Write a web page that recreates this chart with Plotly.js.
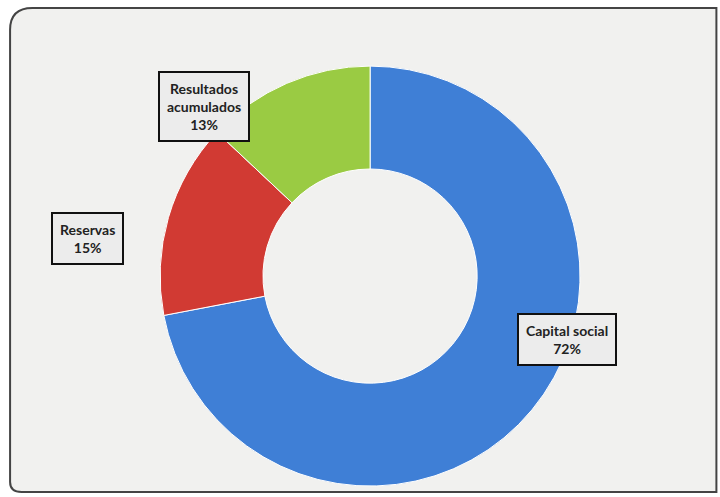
<!DOCTYPE html>
<html>
<head>
<meta charset="utf-8">
<script src="https://cdn.plot.ly/plotly-3.0.1.min.js"></script>
<style>html,body{margin:0;padding:0;background:#fff;}#chart{width:720px;height:497px;}</style>
</head>
<body>
<div id="chart"></div>
<script>
const categories = ["Capital social", "Reservas", "Resultados acumulados"];
const values = [72, 15, 13];
const labelTexts = ["Capital social<br>72%", "Reservas<br>15%", "Resultados<br>acumulados<br>13%"];
const colors = ["#3f7fd6", "#d13a33", "#9acb43"];

const trace = {
  type: "pie",
  labels: categories,
  values: values,
  hole: 0.51,
  sort: false,
  direction: "clockwise",
  rotation: 0,
  textinfo: "none",
  hoverinfo: "label+percent",
  marker: { colors: colors, line: { color: "#ffffff", width: 1 } },
  domain: { x: [0.222, 0.806], y: [0.022, 0.867] },
  showlegend: false
};

const boxPos = [
  { x: 567, y: 339 },
  { x: 87, y: 239 },
  { x: 204, y: 107 }
];

const annotations = labelTexts.map((t, i) => ({
  text: t,
  x: boxPos[i].x / 720,
  y: 1 - boxPos[i].y / 497,
  xref: "paper", yref: "paper",
  xanchor: "center", yanchor: "middle",
  showarrow: false,
  font: { family: "Lato, 'Open Sans', sans-serif", size: 14, color: "#222222", weight: "bold" },
  bgcolor: "#ececec",
  bordercolor: "#111111",
  borderwidth: 2,
  borderpad: 7,
  align: "center"
}));

const layout = {
  width: 720,
  height: 497,
  margin: { l: 0, r: 0, t: 0, b: 0 },
  paper_bgcolor: "#ffffff",
  annotations: annotations,
  shapes: [
    {
      type: "path",
      xref: "paper", yref: "paper",
      path: "M 0.045 0.984 L 0.995 0.984 L 0.995 0.01 L 0.03 0.01 Q 0.014 0.01 0.014 0.03 L 0.014 0.94 Q 0.014 0.984 0.045 0.984 Z",
      fillcolor: "#f1f1ef",
      line: { color: "#444444", width: 2 },
      layer: "below"
    }
  ]
};

Plotly.newPlot("chart", [trace], layout, { displayModeBar: false, staticPlot: true });
</script>
</body>
</html>
